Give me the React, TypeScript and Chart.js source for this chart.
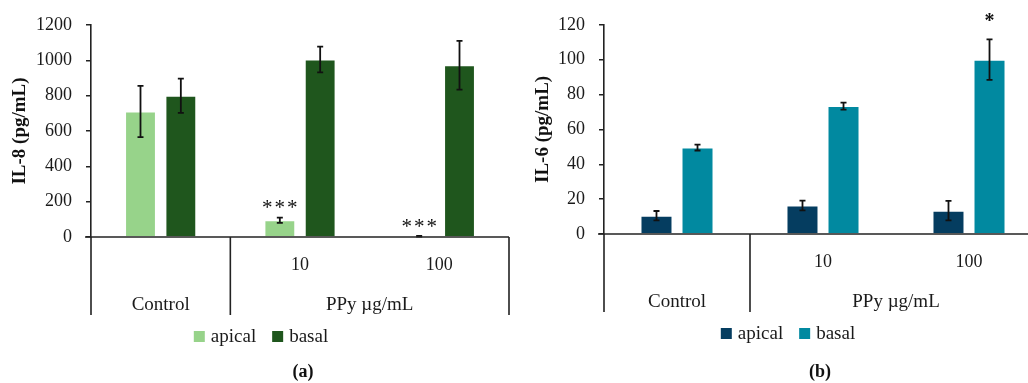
import React, { useEffect, useRef } from 'react';
import { Chart, registerables } from 'chart.js';

Chart.register(...registerables);

const FONT = '"Liberation Serif", "Times New Roman", serif';

// ---- data ----
const doseLabels = ['', '10', '100'];
const groupNames = ['Control', 'PPy µg/mL'];
const groupSpans = [1, 2];
const seriesNames = ['apical', 'basal'];

const il8Apical = [710, 95, 4];
const il8ApicalErr = [145, 15, 2];
const il8Basal = [800, 1005, 972];
const il8BasalErr = [97, 73, 138];
const il8ApicalSig = ['', '***', '***'];
const il8BasalSig = ['', '', ''];
const il8Max = 1200;
const il8Step = 200;

const il6Apical = [10.5, 16.3, 13.4];
const il6ApicalErr = [2.7, 2.8, 5.6];
const il6Basal = [49.6, 73.4, 100];
const il6BasalErr = [1.7, 2, 11.6];
const il6ApicalSig = ['', '', ''];
const il6BasalSig = ['', '', '*'];
const il6Max = 120;
const il6Step = 20;

// ---- decoration plugin ----
const decorPlugin = {
  id: 'decor',
  afterDatasetsDraw(chart: any, _a: any, opts: any) {
    const { ctx } = chart;
    const y = chart.scales.y;
    ctx.save();
    chart.data.datasets.forEach((ds: any, i: number) => {
      const meta = chart.getDatasetMeta(i);
      const errs = opts.errors[i];
      const sigs = opts.sigs[i];
      meta.data.forEach((el: any, j: number) => {
        const v = ds.data[j];
        const e = errs[j];
        const x = el.x;
        const yt = y.getPixelForValue(v + e);
        const yb = y.getPixelForValue(v - e);
        ctx.strokeStyle = '#111';
        ctx.lineWidth = 1.8;
        ctx.beginPath();
        ctx.moveTo(x, yt);
        ctx.lineTo(x, yb);
        ctx.moveTo(x - 3, yt);
        ctx.lineTo(x + 3, yt);
        ctx.moveTo(x - 3, yb);
        ctx.lineTo(x + 3, yb);
        ctx.stroke();
        const s = sigs[j];
        if (s) {
          ctx.fillStyle = '#111';
          ctx.font = (opts.sigBold ? 'bold ' : '') + opts.sigSize + 'px ' + FONT;
          ctx.textAlign = 'center';
          ctx.textBaseline = 'alphabetic';
          const base = yt - opts.sigOffset + 0.47 * opts.sigSize;
          const pitch = opts.sigPitch;
          const n = s.length;
          for (let k = 0; k < n; k++) {
            ctx.fillText(s[k], x + (k - (n - 1) / 2) * pitch, base);
          }
        }
      });
    });
    ctx.restore();
  },
  afterDraw(chart: any, _a: any, opts: any) {
    const { ctx, chartArea } = chart;
    const left = chartArea.left;
    const right = chartArea.right;
    const ay = chartArea.bottom;
    const n = chart.data.labels.length;
    const cw = (right - left) / n;
    ctx.save();
    // x axis line
    ctx.strokeStyle = '#222';
    ctx.lineWidth = 1.6;
    ctx.beginPath();
    ctx.moveTo(left - 6, ay);
    ctx.lineTo(right, ay);
    ctx.stroke();
    // dividers
    let idx = 0;
    const bounds = [0];
    groupSpans.forEach((s) => {
      idx += s;
      bounds.push(idx);
    });
    ctx.beginPath();
    bounds.forEach((b) => {
      const x = left + b * cw;
      ctx.moveTo(x, ay);
      ctx.lineTo(x, ay + 78);
    });
    ctx.stroke();
    // first row labels
    ctx.fillStyle = '#1a1a1a';
    ctx.textAlign = 'center';
    ctx.textBaseline = 'alphabetic';
    ctx.font = '18px ' + FONT;
    chart.data.labels.forEach((l: string, i: number) => {
      if (l) ctx.fillText(l, left + (i + 0.5) * cw, ay + 33);
    });
    // group labels
    ctx.font = '19px ' + FONT;
    groupNames.forEach((g, gi) => {
      const a = bounds[gi];
      const b = bounds[gi + 1];
      ctx.fillText(g, left + ((a + b) / 2) * cw, ay + 72.5);
    });
    // legend
    ctx.font = '19px ' + FONT;
    const box = 11;
    const gapBox = 6;
    const gapItem = 16;
    const items = chart.data.datasets.map((d: any) => ({
      label: d.label,
      color: d.backgroundColor,
      w: ctx.measureText(d.label).width,
    }));
    let total = 0;
    items.forEach((it: any, i: number) => {
      total += box + gapBox + it.w + (i > 0 ? gapItem : 0);
    });
    let lx = opts.legendX - total / 2;
    const ly = ay + 105;
    ctx.textAlign = 'left';
    items.forEach((it: any) => {
      ctx.fillStyle = it.color;
      ctx.fillRect(lx, ly - box, box, box);
      ctx.fillStyle = '#1a1a1a';
      ctx.fillText(it.label, lx + box + gapBox, ly);
      lx += box + gapBox + it.w + gapItem;
    });
    // panel label
    ctx.font = 'bold 18px ' + FONT;
    ctx.textAlign = 'center';
    ctx.fillStyle = '#111';
    ctx.fillText(opts.panel, opts.panelX, 377);
    ctx.restore();
  },
};

type PanelProps = {
  apical: number[];
  basal: number[];
  apicalErr: number[];
  basalErr: number[];
  apicalSig: string[];
  basalSig: string[];
  max: number;
  step: number;
  title: string;
  colors: string[];
  width: number;
  axisWidth: number;
  padTop: number;
  padBottom: number;
  padRight: number;
  titlePad: number;
  catPct: number;
  barPct: number;
  legendX: number;
  panel: string;
  panelX: number;
  sigBold: boolean;
  sigSize: number;
  sigOffset: number;
  sigPitch: number;
};

function Panel(p: PanelProps) {
  const ref = useRef<HTMLCanvasElement | null>(null);
  useEffect(() => {
    if (!ref.current) return;
    const chart = new Chart(ref.current, {
      type: 'bar',
      data: {
        labels: doseLabels,
        datasets: [
          {
            label: seriesNames[0],
            data: p.apical,
            backgroundColor: p.colors[0],
            borderColor: 'rgba(255,255,255,0.35)',
            borderWidth: 1,
            categoryPercentage: p.catPct,
            barPercentage: p.barPct,
          },
          {
            label: seriesNames[1],
            data: p.basal,
            backgroundColor: p.colors[1],
            borderColor: 'rgba(255,255,255,0.35)',
            borderWidth: 1,
            categoryPercentage: p.catPct,
            barPercentage: p.barPct,
          },
        ],
      },
      options: {
        animation: false,
        responsive: false,
        devicePixelRatio: 1,
        layout: { padding: { top: p.padTop, bottom: p.padBottom, right: p.padRight, left: 0 } },
        scales: {
          x: { display: false, offset: true },
          y: {
            min: 0,
            max: p.max,
            afterFit: (s: any) => {
              s.width = p.axisWidth;
            },
            ticks: {
              stepSize: p.step,
              padding: 14,
              color: '#1a1a1a',
              font: { family: FONT, size: 18 },
              callback: (v: any) => String(v),
            },
            grid: {
              drawOnChartArea: false,
              drawTicks: true,
              tickLength: 5,
              color: '#222',
              lineWidth: 1.5,
            },
            border: { display: true, color: '#222', width: 1.6 },
            title: {
              display: true,
              text: p.title,
              color: '#111',
              font: { family: FONT, size: 19, weight: 'bold' },
              padding: { top: p.titlePad, bottom: 0 },
            },
          },
        },
        plugins: {
          legend: { display: false },
          tooltip: { enabled: false },
          decor: {
            errors: [p.apicalErr, p.basalErr],
            sigs: [p.apicalSig, p.basalSig],
            legendX: p.legendX,
            panel: p.panel,
            panelX: p.panelX,
            sigBold: p.sigBold,
            sigSize: p.sigSize,
            sigOffset: p.sigOffset,
            sigPitch: p.sigPitch,
          },
        } as any,
      },
      plugins: [decorPlugin as any],
    });
    return () => chart.destroy();
  }, []);
  return (
    <canvas
      ref={ref}
      width={p.width}
      height={383}
      style={{ width: p.width, height: 383, display: 'block' }}
    />
  );
}

export default function App() {
  return (
    <div
      style={{
        position: 'absolute',
        left: 0,
        top: 0,
        width: 1028,
        height: 383,
        overflow: 'hidden',
        background: '#fff',
      }}
    >
      <div style={{ position: 'absolute', left: 0, top: 0, width: 512, height: 383 }}>
        <Panel
          apical={il8Apical}
          basal={il8Basal}
          apicalErr={il8ApicalErr}
          basalErr={il8BasalErr}
          apicalSig={il8ApicalSig}
          basalSig={il8BasalSig}
          max={il8Max}
          step={il8Step}
          title="IL-8 (pg/mL)"
          colors={['#97d38a', '#1f561d']}
          width={512}
          axisWidth={91}
          padTop={25}
          padBottom={146}
          padRight={3}
          titlePad={8.6}
          catPct={0.579}
          barPct={0.765}
          legendX={261}
          panel="(a)"
          panelX={303}
          sigBold={false}
          sigSize={21}
          sigOffset={13}
          sigPitch={12.5}
        />
      </div>
      <div style={{ position: 'absolute', left: 512, top: 0, width: 516, height: 383, overflow: 'hidden' }}>
        <Panel
          apical={il6Apical}
          basal={il6Basal}
          apicalErr={il6ApicalErr}
          basalErr={il6BasalErr}
          apicalSig={il6ApicalSig}
          basalSig={il6BasalSig}
          max={il6Max}
          step={il6Step}
          title="IL-6 (pg/mL)"
          colors={['#053d60', '#0189a0']}
          width={533}
          axisWidth={92}
          padTop={23}
          padBottom={149}
          padRight={3}
          titlePad={19.6}
          catPct={0.562}
          barPct={0.78}
          legendX={276}
          panel="(b)"
          panelX={308}
          sigBold={true}
          sigSize={20}
          sigOffset={21.6}
          sigPitch={12}
        />
      </div>
    </div>
  );
}
